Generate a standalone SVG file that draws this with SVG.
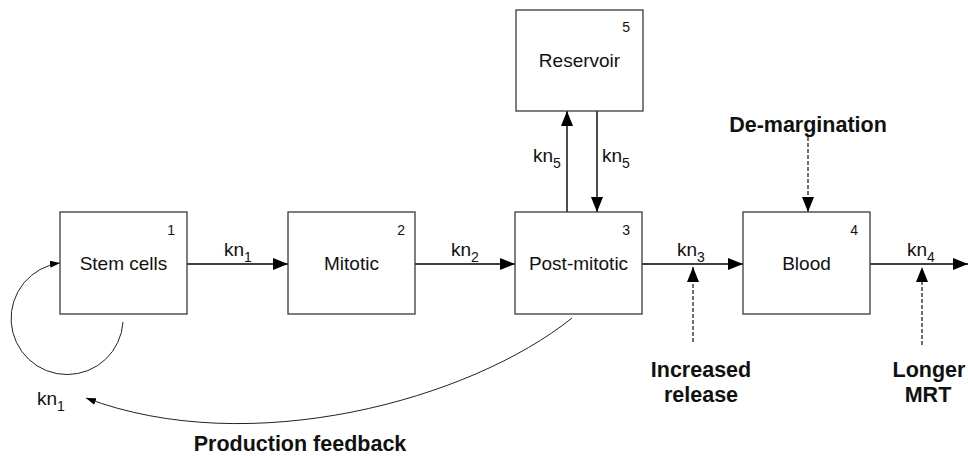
<svg xmlns="http://www.w3.org/2000/svg" width="968" height="457" viewBox="0 0 968 457">
<style>
.box{fill:#fff;stroke:#3a3a3a;stroke-width:1.3}
.t{font-family:"Liberation Sans",Arial,sans-serif;font-size:19px;fill:#111}
.n{font-family:"Liberation Sans",Arial,sans-serif;font-size:14px;fill:#111;text-anchor:end}
.b{font-family:"Liberation Sans",Arial,sans-serif;font-size:21.5px;font-weight:bold;fill:#111;text-anchor:middle}
.c{text-anchor:middle}
.ln{fill:none;stroke:#000;stroke-width:1.4}
.thin{fill:none;stroke:#222;stroke-width:1}
.dash{fill:none;stroke:#333;stroke-width:1.4;stroke-dasharray:4 2}
</style>
<defs>
<marker id="big" markerUnits="userSpaceOnUse" markerWidth="16" markerHeight="13" refX="15" refY="6" orient="auto"><path d="M0,0 L15,6 L0,12 z" fill="#000"/></marker>
<marker id="sm" markerUnits="userSpaceOnUse" markerWidth="11" markerHeight="8" refX="10" refY="3.5" orient="auto"><path d="M0,0 L10,3.5 L0,7 z" fill="#000"/></marker>
</defs>
<g id="connectors">
<line class="ln" x1="187" y1="264" x2="288" y2="264" marker-end="url(#big)"/>
<line class="ln" x1="415" y1="264" x2="515" y2="264" marker-end="url(#big)"/>
<line class="ln" x1="642" y1="264" x2="743" y2="264" marker-end="url(#big)"/>
<line class="ln" x1="870" y1="264" x2="968" y2="264" marker-end="url(#big)"/>
<line class="ln" x1="567" y1="212" x2="567" y2="111" marker-end="url(#big)"/>
<line class="ln" x1="597" y1="111" x2="597" y2="212" marker-end="url(#big)"/>
<line class="dash" x1="808" y1="137" x2="808" y2="212" marker-end="url(#big)"/>
<line class="dash" x1="693" y1="342" x2="693" y2="267" marker-end="url(#big)"/>
<line class="dash" x1="922" y1="345" x2="922" y2="267" marker-end="url(#big)"/>
<path class="thin" d="M123,322 A56,56 0 1 1 60,263" marker-end="url(#sm)"/>
<path class="thin" d="M572,318 C470,400 250,460 86,398" marker-end="url(#sm)"/>
<text class="t" x="224" y="256">kn<tspan dy="6" font-size="14">1</tspan></text>
<text class="t" x="451" y="256">kn<tspan dy="6" font-size="14">2</tspan></text>
<text class="t" x="677" y="256">kn<tspan dy="6" font-size="14">3</tspan></text>
<text class="t" x="907" y="256">kn<tspan dy="6" font-size="14">4</tspan></text>
<text class="t" x="533" y="162">kn<tspan dy="6" font-size="14">5</tspan></text>
<text class="t" x="602" y="162">kn<tspan dy="6" font-size="14">5</tspan></text>
<text class="t" x="37" y="405">kn<tspan dy="6" font-size="14">1</tspan></text>
<text class="b" x="808" y="132">De-margination</text>
<text class="b" x="701" y="377">Increased</text>
<text class="b" x="701" y="402">release</text>
<text class="b" x="929" y="377">Longer</text>
<text class="b" x="928" y="402">MRT</text>
<text class="b" x="300" y="451">Production feedback</text>
</g>
<g id="node1">
<rect class="box" x="60" y="212" width="127" height="102"/>
<text class="t c" x="123.5" y="270">Stem cells</text>
<text class="n" x="175" y="235">1</text>
</g>
<g id="node2">
<rect class="box" x="288" y="212" width="127" height="102"/>
<text class="t c" x="351.5" y="270">Mitotic</text>
<text class="n" x="405" y="235">2</text>
</g>
<g id="node3">
<rect class="box" x="515" y="212" width="127" height="102"/>
<text class="t c" x="578.5" y="270">Post-mitotic</text>
<text class="n" x="630" y="235">3</text>
</g>
<g id="node4">
<rect class="box" x="743" y="212" width="127" height="102"/>
<text class="t c" x="806.5" y="270">Blood</text>
<text class="n" x="858" y="235">4</text>
</g>
<g id="node5">
<rect class="box" x="516" y="10" width="127" height="101"/>
<text class="t c" x="579.5" y="67">Reservoir</text>
<text class="n" x="630" y="32">5</text>
</g>
</svg>
